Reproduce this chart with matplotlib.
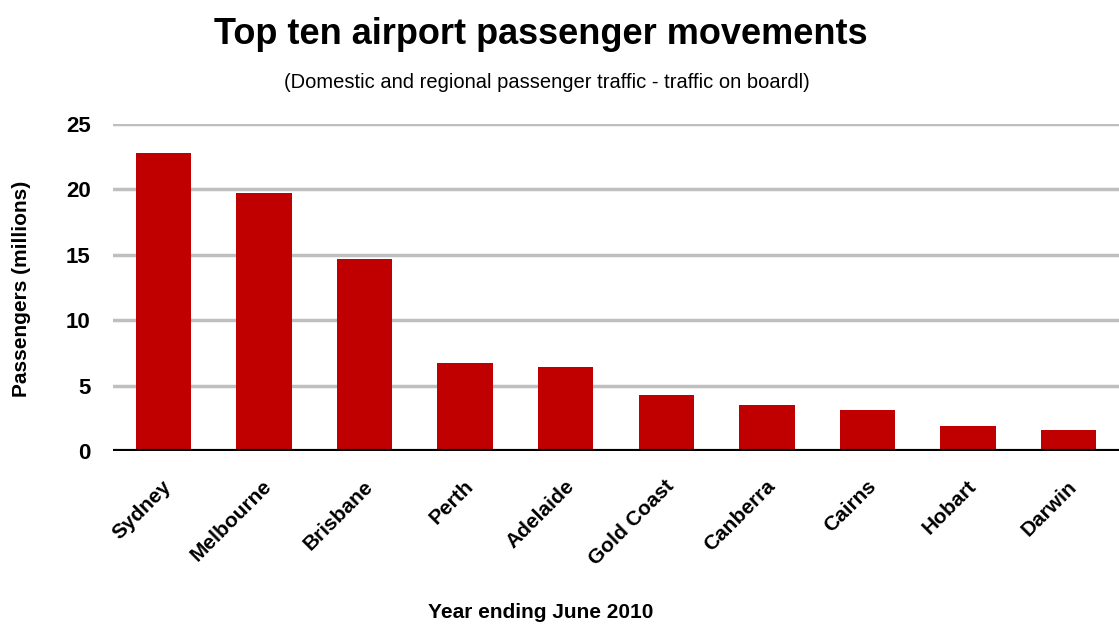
import matplotlib.pyplot as plt
import matplotlib.transforms as mtransforms

plt.rcParams['font.family'] = ['Liberation Sans', 'DejaVu Sans']

airports = ['Sydney', 'Melbourne', 'Brisbane', 'Perth', 'Adelaide',
            'Gold Coast', 'Canberra', 'Cairns', 'Hobart', 'Darwin']
passengers = [22.75, 19.7, 14.65, 6.75, 6.45, 4.25, 3.5, 3.1, 1.9, 1.6]
yticks = [0, 5, 10, 15, 20, 25]

fig = plt.figure(figsize=(11.19, 6.26), dpi=100)
ax = fig.add_axes([113 / 1119, 1 - 451 / 626, 1006 / 1119, 327 / 626])

x = range(len(airports))
ax.bar(x, passengers, width=0.55, color='#C00000', zorder=3)

ax.set_xlim(-0.5, len(airports) - 0.5)
ax.set_ylim(0, 25)
ax.set_yticks(yticks)
ax.yaxis.grid(True, color='#BFBFBF', linewidth=2.5, zorder=0)
ax.axhline(0, color='black', linewidth=3, zorder=4)
for s in ax.spines.values():
    s.set_visible(False)
ax.tick_params(axis='both', length=0)
ax.tick_params(axis='y', labelsize=16, pad=16)
for lbl in ax.get_yticklabels():
    lbl.set_fontweight('bold')

ax.set_xticks(list(x))
ax.set_xticklabels(airports, rotation=45, ha='right', fontsize=15,
                   fontweight='bold')
offset = mtransforms.ScaledTranslation(12 / 100, -21 / 100, fig.dpi_scale_trans)
for lbl in ax.get_xticklabels():
    lbl.set_transform(lbl.get_transform() + offset)

fig.text(0.483, 1 - 35 / 626, 'Top ten airport passenger movements',
         ha='center', va='center', fontsize=26, fontweight='bold')
fig.text(0.489, 1 - 82 / 626,
         '(Domestic and regional passenger traffic - traffic on boardl)',
         ha='center', va='center', fontsize=14.5)
fig.text(0.483, 1 - 612 / 626, 'Year ending June 2010',
         ha='center', va='center', fontsize=15, fontweight='bold')
fig.text(22 / 1119, 1 - 289 / 626, 'Passengers (millions)',
         ha='center', va='center', rotation=90, fontsize=15,
         fontweight='bold')

fig.savefig('out.png', dpi=100)
